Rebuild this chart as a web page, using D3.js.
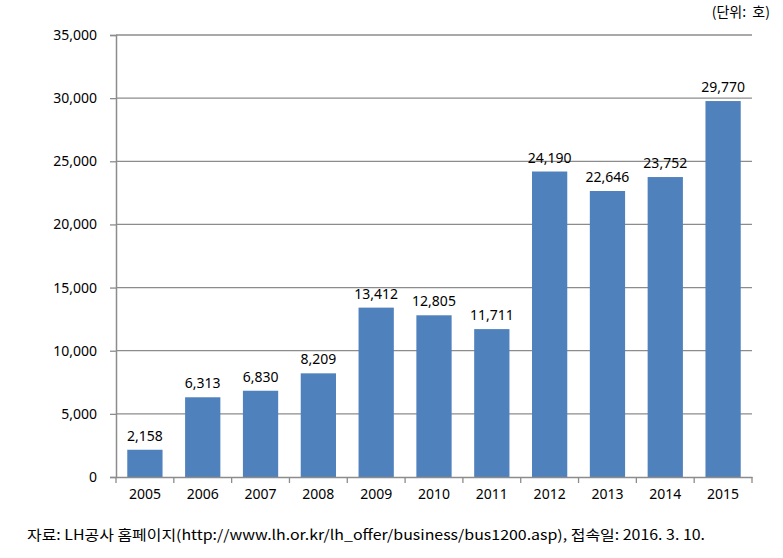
<!DOCTYPE html>
<html><head><meta charset="utf-8">
<script src="https://cdn.jsdelivr.net/npm/d3@7"></script>
<style>body{margin:0;background:#fff}</style>
</head><body>
<svg id="c" width="783" height="558"></svg>
<script>
const categories = ["2005","2006","2007","2008","2009","2010","2011","2012","2013","2014","2015"];
const values = [2158,6313,6830,8209,13412,12805,11711,24190,22646,23752,29770];
const yTicks = [0,5000,10000,15000,20000,25000,30000,35000];
const unitLabel = "(단위:  호)";
const sourceText = "자료: LH공사 홈페이지(http://www.lh.or.kr/lh_offer/business/bus1200.asp), 접속일: 2016. 3. 10.";

(function () {
const svg = d3.select("#c");
const pl = 116, pr = 752, pt = 35, pb = 477;
const font = "'Noto Sans', 'Open Sans', sans-serif";
const fs = 14;
const x = d3.scaleBand().domain(categories).range([pl, pr]).paddingInner(0.39).paddingOuter(0.195);
const y = d3.scaleLinear().domain([0, 35000]).range([pb, pt]);
const fmt = d3.format(",");

// gridlines
svg.append("g").selectAll("line").data(yTicks.filter(d => d > 0)).join("line")
  .attr("x1", pl).attr("x2", pr)
  .attr("y1", d => y(d)).attr("y2", d => y(d))
  .attr("stroke", "#8c8c8c").attr("stroke-width", 1.3);

// bars
svg.append("g").selectAll("rect").data(values).join("rect")
  .attr("x", (d, i) => x(categories[i]))
  .attr("width", x.bandwidth())
  .attr("y", d => y(d))
  .attr("height", d => pb - y(d))
  .attr("fill", "#4f81bd");

// value labels
svg.append("g").selectAll("text").data(values).join("text")
  .attr("x", (d, i) => x(categories[i]) + x.bandwidth() / 2)
  .attr("y", d => y(d) - 9)
  .attr("text-anchor", "middle")
  .attr("font-family", font).attr("font-size", fs).attr("fill", "#000")
  .text(d => fmt(d));

// y axis
const yAxis = d3.axisLeft(y).tickValues(yTicks).tickFormat(fmt).tickSize(6).tickPadding(13);
const gy = svg.append("g").attr("transform", `translate(${pl},0)`).call(yAxis);
gy.select(".domain").attr("stroke", "#8c8c8c").attr("stroke-width", 1.5);
gy.selectAll(".tick line").attr("stroke", "#8c8c8c").attr("stroke-width", 1.3);
gy.selectAll("text").attr("font-family", font).attr("font-size", fs).attr("fill", "#000");

// x axis
const xAxis = d3.axisBottom(x).tickSize(0).tickPadding(12);
const gx = svg.append("g").attr("transform", `translate(0,${pb})`).call(xAxis);
gx.select(".domain").attr("stroke", "#8c8c8c").attr("stroke-width", 1.5);
gx.selectAll("text").attr("font-family", font).attr("font-size", fs).attr("fill", "#000");
// category boundary ticks
const step = x.step();
const bounds = d3.range(categories.length + 1).map(i => pl + i * step);
svg.append("g").selectAll("line").data(bounds).join("line")
  .attr("x1", d => d).attr("x2", d => d)
  .attr("y1", pb).attr("y2", pb + 6)
  .attr("stroke", "#8c8c8c").attr("stroke-width", 1.3);

// unit label
svg.append("text").attr("x", 770).attr("y", 17).attr("text-anchor", "end")
  .attr("font-family", "'Noto Sans CJK KR', sans-serif").attr("font-size", 14).attr("fill", "#000")
  .attr("xml:space", "preserve").style("white-space", "pre")
  .text(unitLabel);

// source
svg.append("text").attr("x", 27).attr("y", 540)
  .attr("font-family", "'Noto Sans CJK KR', sans-serif").attr("font-size", 14).attr("fill", "#000")
  .attr("textLength", 678).attr("lengthAdjust", "spacingAndGlyphs")
  .text(sourceText);
})();
</script>
</body></html>
